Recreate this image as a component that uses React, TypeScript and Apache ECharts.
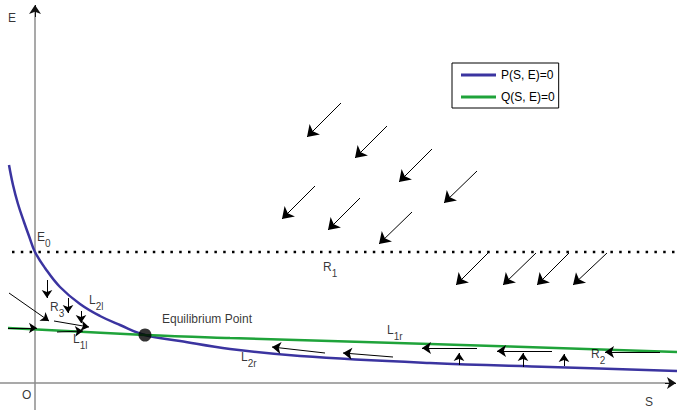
import React, { useEffect, useRef } from "react";
import * as echarts from "echarts";

// Coordinates: S to the right of the E axis, E above the S axis (arbitrary units)
const pCurve: number[][] = [
  [-26, 218], [-22, 198], [-17, 179], [-11, 161], [-6, 147], [0, 131],
  [10, 115], [25, 96], [45, 79], [65, 67], [85, 58], [110, 48],
  [145, 42], [195, 34], [265, 27], [395, 20], [515, 16], [642, 12],
];
const qCurve: number[][] = [
  [-27, 55], [110, 48], [195, 45], [395, 39], [642, 31],
];
const e0Line: number[][] = [[-23, 131], [642, 131]];
const equilibrium: number[][] = [[110, 48]];

const axisLines: number[][][] = [
  [[-35, 0], [637, 0]],
  [[0, -27], [0, 372]],
];
const axisTips: number[][][] = [
  [[630, 0], [641, 0]],
  [[0, 366], [0, 378]],
];

// diagonal arrows (tail -> head)
const bigArrows: number[][][] = [
  [[306, 280], [272, 246]],
  [[352, 257], [320, 225]],
  [[397, 234], [364, 201]],
  [[442, 212], [409, 180]],
  [[280, 197], [247, 164]],
  [[325, 185], [293, 153]],
  [[377, 171], [344, 139]],
  [[453, 130], [421, 98]],
  [[501, 130], [468, 98]],
  [[534, 130], [502, 98]],
  [[572, 130], [538, 98]],
];
// arrows along the curves
const midArrows: number[][][] = [
  [[290, 30], [237, 36]],
  [[358, 26], [308, 30]],
  [[442, 35], [387, 35]],
  [[517, 32], [462, 32]],
  [[625, 31], [570, 31]],
];
const smallArrows: number[][][] = [
  [[424, 18], [424, 30]],
  [[488, 16], [488, 30]],
  [[529, 17], [529, 29]],
  [[12, 103], [12, 85]],
  [[33, 85], [33, 70]],
  [[46, 72], [46, 60]],
  [[-26, 90], [14, 62]],
  [[19, 62], [54, 56]],
  [[-27, 55], [2, 55]],
  [[22, 51], [48, 52]],
];

const labelMain = ["E", "O", "S", "E", "R", "R", "R", "L", "L", "L", "L", "Equilibrium Point"];
const labelSub = ["", "", "", "0", "1", "2", "3", "2l", "1l", "1r", "2r", ""];
const labelPos: number[][] = [
  [-27, 364], [-13, -13], [610, -20], [2, 145], [288, 115], [556, 28],
  [15, 75], [54, 82], [38, 43], [352, 52], [206, 25], [127, 63],
];

const BLUE = "#3b34a0";
const GREEN = "#1fa33a";

export default function App() {
  const ref = useRef<HTMLDivElement>(null);
  useEffect(() => {
    if (!ref.current) return;
    const chart = echarts.init(ref.current, null, { renderer: "svg" });
    const arrowSeries = (data: number[][][], size: number) => ({
      type: "lines",
      coordinateSystem: "cartesian2d",
      symbol: ["none", "arrow"],
      symbolSize: size,
      lineStyle: { color: "#000", width: 1, opacity: 1 },
      data: data.map((c) => ({ coords: c })),
      silent: true,
      z: 5,
    });
    chart.setOption({
      animation: false,
      textStyle: { fontFamily: "Liberation Sans, Arial, sans-serif" },
      grid: { left: 0, right: 0, top: 0, bottom: 0 },
      xAxis: { type: "value", min: -35, max: 642, show: false },
      yAxis: { type: "value", min: -27, max: 383, show: false },
      legend: {
        data: [
          { name: "P(S, E)=0", icon: "rect" },
          { name: "Q(S, E)=0", icon: "rect" },
        ],
        orient: "vertical",
        left: 452,
        top: 63,
        itemWidth: 35,
        itemHeight: 3,
        itemGap: 8,
        padding: [5, 4, 4, 9],
        borderColor: "#000",
        borderWidth: 1,
        textStyle: { fontSize: 12, color: "#000", lineHeight: 14 },
        selectedMode: false,
      },
      series: [
        {
          type: "lines",
          coordinateSystem: "cartesian2d",
          lineStyle: { color: "#8c8c8c", width: 1.5, opacity: 1 },
          data: axisLines.map((c) => ({ coords: c })),
          silent: true,
          z: 1,
        },
        {
          type: "lines",
          coordinateSystem: "cartesian2d",
          symbol: ["none", "arrow"],
          symbolSize: 9,
          lineStyle: { color: "#111", width: 1, opacity: 1 },
          data: axisTips.map((c) => ({ coords: c })),
          silent: true,
          z: 1,
        },
        {
          name: "P(S, E)=0",
          type: "line",
          data: pCurve,
          smooth: 0.4,
          symbol: "none",
          lineStyle: { color: BLUE, width: 2.5 },
          itemStyle: { color: BLUE },
          z: 3,
        },
        {
          name: "Q(S, E)=0",
          type: "line",
          data: qCurve,
          smooth: 0.4,
          symbol: "none",
          lineStyle: { color: GREEN, width: 2.5 },
          itemStyle: { color: GREEN },
          z: 3,
        },
        {
          type: "line",
          data: e0Line,
          symbol: "none",
          lineStyle: { color: "#000", width: 2.5, type: [2.5, 6.3], cap: "butt" },
          z: 2,
          silent: true,
        },
        arrowSeries(bigArrows, 11),
        arrowSeries(midArrows, 9),
        arrowSeries(smallArrows, 8),
        {
          type: "scatter",
          data: equilibrium,
          symbolSize: 13,
          itemStyle: { color: "#000" },
          z: 6,
        },
        {
          type: "scatter",
          symbolSize: 0,
          silent: true,
          z: 7,
          data: labelPos.map((p, i) => ({ value: p, name: labelMain[i] })),
          label: {
            show: true,
            position: [0, 0],
            align: "left",
            verticalAlign: "middle",
            formatter: (p: any) => {
              const s = labelSub[p.dataIndex];
              return s ? `{m|${labelMain[p.dataIndex]}}{s|${s}}` : `{m|${labelMain[p.dataIndex]}}`;
            },
            rich: {
              m: { fontSize: 12, color: "#000", lineHeight: 14, verticalAlign: "top" },
              s: { fontSize: 10, color: "#000", lineHeight: 12, verticalAlign: "top", padding: [7, 0, 0, 0] },
            },
          },
        },
      ],
    });
    return () => chart.dispose();
  }, []);
  return (
    <div
      ref={ref}
      style={{ position: "fixed", left: 0, top: 0, width: 677, height: 410, background: "#fff" }}
    />
  );
}
